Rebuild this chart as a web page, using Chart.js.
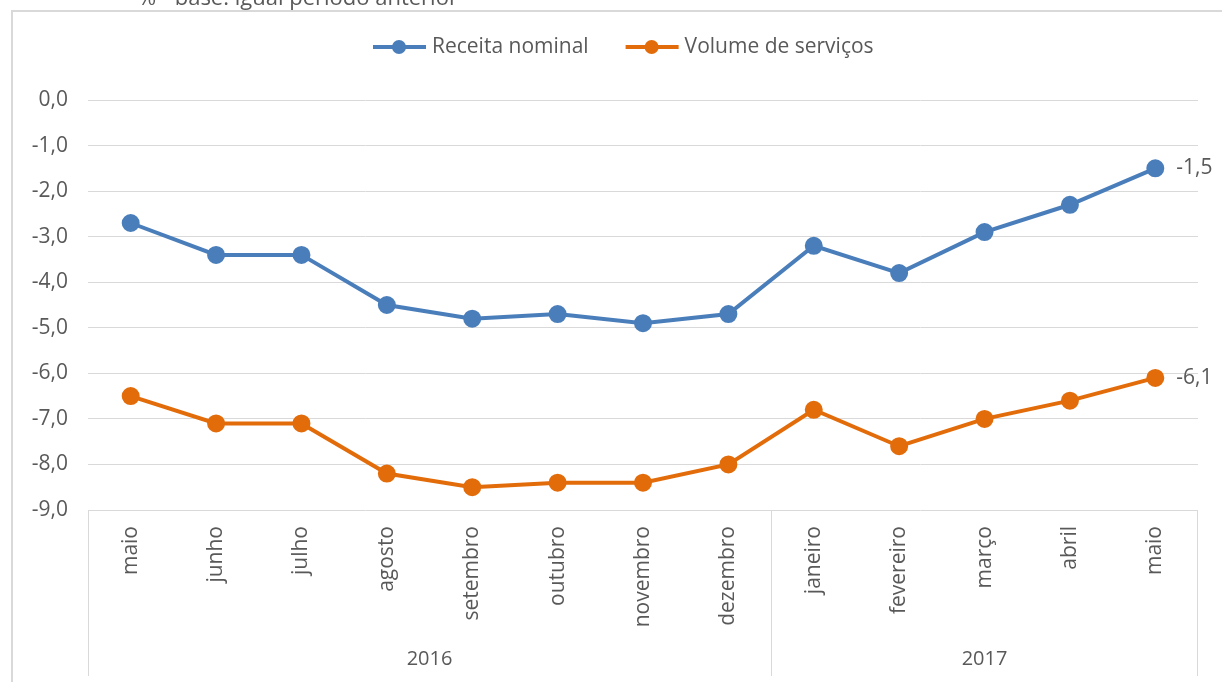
<!DOCTYPE html>
<html>
<head>
<meta charset="utf-8">
<script src="https://cdn.jsdelivr.net/npm/chart.js@4.4.1/dist/chart.umd.min.js"></script>
<style>
  html, body { margin: 0; background: #fff; }
</style>
</head>
<body>
<canvas id="chart" width="1222" height="682"></canvas>
<script>
const months = ['maio', 'junho', 'julho', 'agosto', 'setembro', 'outubro', 'novembro', 'dezembro',
                'janeiro', 'fevereiro', 'março', 'abril', 'maio'];
const years = ['2016', '2016', '2016', '2016', '2016', '2016', '2016', '2016',
               '2017', '2017', '2017', '2017', '2017'];
const receitaNominal = [-2.7, -3.4, -3.4, -4.5, -4.8, -4.7, -4.9, -4.7, -3.2, -3.8, -2.9, -2.3, -1.5];
const volumeServicos = [-6.5, -7.1, -7.1, -8.2, -8.5, -8.4, -8.4, -8.0, -6.8, -7.6, -7.0, -6.6, -6.1];
const subtitle = '% - base: igual período anterior';

const BLUE = '#4a7ebb';
const ORANGE = '#e36c0a';
const TEXT = '#595959';
const GRID = '#d9d9d9';
const FONT = '"Open Sans", sans-serif';
const SIZE = 21;

const fmt = v => v.toFixed(1).replace('.', ',');

// frame, legend, year groups and the end labels
const extras = {
  id: 'extras',
  afterDraw(chart) {
    const { ctx, chartArea, scales: { x, y } } = chart;
    ctx.save();

    // outer frame
    ctx.strokeStyle = GRID;
    ctx.lineWidth = 2;
    ctx.strokeRect(12, 11, 1240, 700);

    // cut-off subtitle
    ctx.fillStyle = TEXT;
    ctx.font = '22px ' + FONT;
    ctx.textAlign = 'left';
    ctx.textBaseline = 'alphabetic';
    ctx.fillText(subtitle, 138, 5);

    // legend
    ctx.font = SIZE + 'px ' + FONT;
    ctx.textBaseline = 'middle';
    let lx = 373;
    chart.data.datasets.forEach(ds => {
      ctx.strokeStyle = ds.borderColor;
      ctx.lineWidth = 4;
      ctx.beginPath();
      ctx.moveTo(lx, 47);
      ctx.lineTo(lx + 53, 47);
      ctx.stroke();
      ctx.fillStyle = ds.borderColor;
      ctx.beginPath();
      ctx.arc(lx + 26, 47, 7, 0, Math.PI * 2);
      ctx.fill();
      ctx.fillStyle = TEXT;
      ctx.fillText(ds.label, lx + 59, 47);
      lx += 59 + ctx.measureText(ds.label).width + 37;
    });

    // year groups under the month labels
    const half = (x.getPixelForValue(1) - x.getPixelForValue(0)) / 2;
    const groups = [];
    years.forEach((yr, i) => {
      const g = groups[groups.length - 1];
      if (g && g.label === yr) g.end = i; else groups.push({ label: yr, start: i, end: i });
    });
    ctx.strokeStyle = GRID;
    ctx.lineWidth = 1;
    ctx.font = '20px ' + FONT;
    ctx.textAlign = 'center';
    const bottom = 676;
    groups.forEach((g, gi) => {
      const left = x.getPixelForValue(g.start) - half;
      const right = x.getPixelForValue(g.end) + half;
      ctx.beginPath();
      ctx.moveTo(Math.round(left) + 0.5, chartArea.bottom);
      ctx.lineTo(Math.round(left) + 0.5, bottom);
      if (gi === groups.length - 1) {
        ctx.moveTo(Math.round(right) - 0.5, chartArea.bottom);
        ctx.lineTo(Math.round(right) - 0.5, bottom);
      }
      ctx.stroke();
      ctx.fillStyle = TEXT;
      ctx.fillText(g.label, (left + right) / 2, 659);
    });

    // value of the last point of each series
    ctx.textAlign = 'left';
    ctx.font = SIZE + 'px ' + FONT;
    chart.data.datasets.forEach((ds, di) => {
      const pts = chart.getDatasetMeta(di).data;
      const last = pts[pts.length - 1];
      ctx.fillStyle = TEXT;
      ctx.fillText(fmt(ds.data[ds.data.length - 1]), last.x + 21, last.y);
    });

    ctx.restore();
  }
};

new Chart(document.getElementById('chart'), {
  type: 'line',
  data: {
    labels: months,
    datasets: [{
      label: 'Receita nominal',
      data: receitaNominal,
      borderColor: BLUE,
      backgroundColor: BLUE,
      borderWidth: 4,
      pointRadius: 7,
      pointHoverRadius: 7,
      pointBackgroundColor: BLUE,
      pointBorderColor: BLUE
    }, {
      label: 'Volume de serviços',
      data: volumeServicos,
      borderColor: ORANGE,
      backgroundColor: ORANGE,
      borderWidth: 4,
      pointRadius: 7,
      pointHoverRadius: 7,
      pointBackgroundColor: ORANGE,
      pointBorderColor: ORANGE
    }]
  },
  options: {
    responsive: false,
    animation: false,
    devicePixelRatio: 1,
    layout: { padding: { top: 100, right: 24, left: 0, bottom: 0 } },
    plugins: {
      legend: { display: false },
      tooltip: { enabled: false }
    },
    scales: {
      x: {
        offset: true,
        grid: { display: false },
        border: { display: false },
        ticks: {
          autoSkip: false,
          maxRotation: 90,
          minRotation: 90,
          padding: 8,
          color: TEXT,
          font: { family: FONT, size: 21 }
        },
        afterFit(scale) { scale.height = 172; }
      },
      y: {
        min: -9,
        max: 0,
        grid: { color: GRID, drawTicks: false },
        border: { display: false },
        ticks: {
          stepSize: 1,
          padding: 20,
          color: TEXT,
          font: { family: FONT, size: SIZE },
          callback: v => fmt(v)
        },
        afterFit(scale) { scale.width = 88; }
      }
    }
  },
  plugins: [extras]
});
</script>
</body>
</html>
